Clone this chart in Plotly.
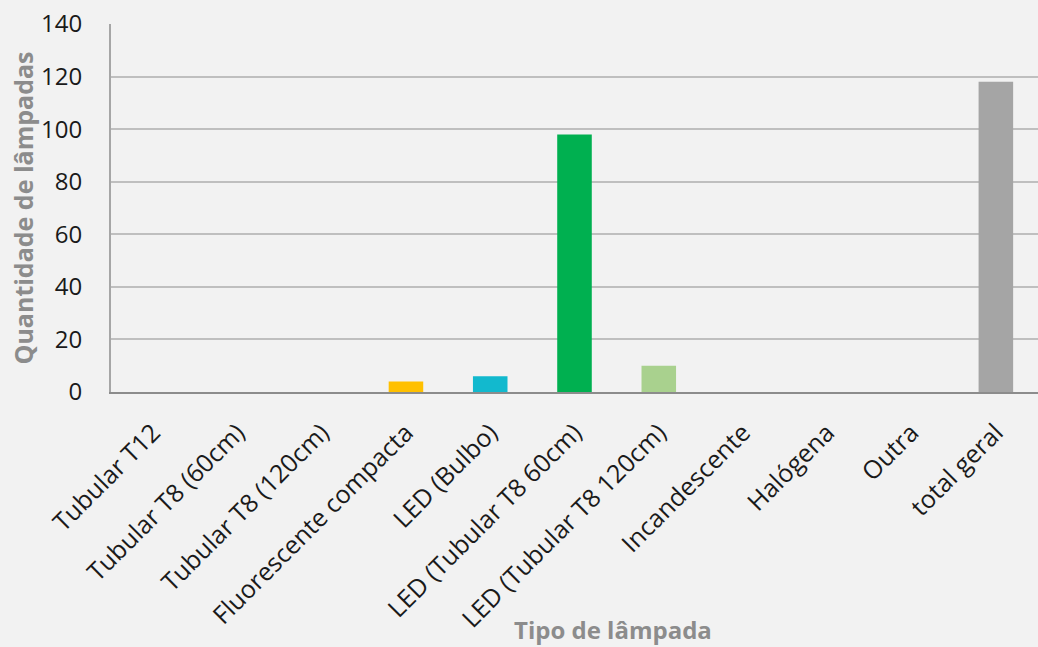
import plotly.graph_objects as go

# Lamp types and counts
categorias = [
    "Tubular T12", "Tubular T8 (60cm)", "Tubular T8 (120cm)",
    "Fluorescente compacta", "LED (Bulbo)", "LED (Tubular T8 60cm)",
    "LED (Tubular T8 120cm)", "Incandescente", "Halógena", "Outra", "total geral",
]
quantidades = [0, 0, 0, 4, 6, 98, 10, 0, 0, 0, 118]
cores = [
    "#4472C4", "#ED7D31", "#A5A5A5", "#FFC000", "#12B9CE", "#00B050",
    "#A9D18E", "#7030A0", "#C00000", "#70AD47", "#A5A5A5",
]
y_ticks = [0, 20, 40, 60, 80, 100, 120, 140]

FONT = "Open Sans, sans-serif"

fig = go.Figure(
    go.Bar(
        x=categorias,
        y=quantidades,
        marker=dict(color=cores, line=dict(width=0)),
        width=0.41,
        hoverinfo="x+y",
    )
)

fig.update_layout(
    width=1038,
    height=647,
    paper_bgcolor="#F2F2F2",
    plot_bgcolor="#F2F2F2",
    margin=dict(l=111, r=0, t=24, b=255),
    showlegend=False,
    font=dict(family=FONT, size=24, color="#1a1a1a"),
    xaxis=dict(
        tickangle=-45,
        showgrid=False,
        showline=True,
        linecolor="#8c8c8c",
        linewidth=2,
        ticks="",
        ticklabelstandoff=14,
        tickfont=dict(size=25, color="#1a1a1a"),
    ),
    yaxis=dict(
        range=[0, 140],
        tickvals=y_ticks,
        showgrid=True,
        gridcolor="#BFBFBF",
        gridwidth=2,
        zeroline=False,
        showline=True,
        linecolor="#A6A6A6",
        linewidth=2,
        ticks="",
        ticklabelstandoff=22,
        tickfont=dict(size=24, color="#1a1a1a"),
        title=dict(
            text="<b>Quantidade de lâmpadas</b>",
            font=dict(size=25, color="#8c8c8c"),
            standoff=0,
        ),
    ),
    annotations=[
        dict(
            text="<b>Tipo de lâmpada</b>",
            xref="paper", yref="paper",
            x=(613 - 111) / (1038 - 111), y=-(629 - 392) / (392 - 24),
            xanchor="center", yanchor="middle",
            showarrow=False,
            font=dict(family=FONT, size=24, color="#8c8c8c"),
        )
    ],
)

fig.write_html("out.html")
